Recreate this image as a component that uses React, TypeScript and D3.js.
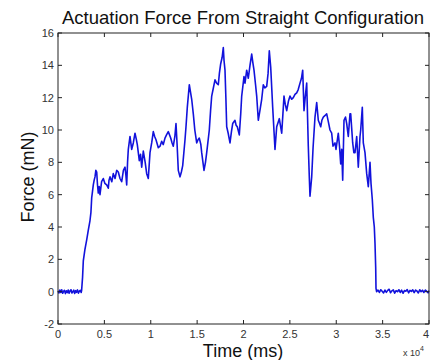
import React, { useEffect, useRef } from "react";
import * as d3 from "d3";

const TITLE = "Actuation Force From Straight Configuration";
const X_LABEL = "Time (ms)";
const Y_LABEL = "Force (mN)";
const X_TICKS = [0, 5000, 10000, 15000, 20000, 25000, 30000, 35000, 40000];
const X_TICK_LABELS = ["0", "0.5", "1", "1.5", "2", "2.5", "3", "3.5", "4"];
const Y_TICKS = [-2, 0, 2, 4, 6, 8, 10, 12, 14, 16];

// time (ms)
const TIME = [
  0, 100, 200, 300, 400, 500, 600, 700, 800, 900, 1000, 1100, 1200, 1300, 1400, 1500, 1600, 1700, 1800, 1900, 2000, 2100, 2200, 2300, 2400, 2500,
  2550, 2650, 2728, 2900, 3094, 3267, 3450, 3550, 3633, 3720, 3806, 3900, 3989, 4080, 4173, 4260, 4345, 4440, 4528, 4700, 4884, 5050, 5251, 5423,
  5500, 5606, 5800, 5962, 6150, 6329, 6501, 6685, 6868, 7050, 7224, 7320, 7407, 7500, 7580, 7763, 7946, 8119, 8302, 8450, 8550, 8766, 8900, 9024,
  9197, 9400, 9563, 9736, 9919, 10100, 10275, 10420, 10566, 10814, 11000, 11181, 11350, 11536, 11700, 11892, 12151, 12300, 12431, 12600, 12722,
  12850, 12970, 13154, 13300, 13445, 13693, 13800, 13941, 14157, 14300, 14415, 14588, 14750, 14954, 15100, 15235, 15400, 15493, 15741, 15900,
  16032, 16313, 16450, 16572, 16750, 16927, 17100, 17283, 17400, 17542, 17700, 17822, 17900, 18005, 18100, 18189, 18350, 18544, 18700, 18836,
  19084, 19200, 19332, 19548, 19700, 19806, 20054, 20162, 20345, 20518, 20700, 20884, 21000, 21132, 21300, 21423, 21596, 21800, 21962, 22135,
  22300, 22501, 22650, 22782, 22933, 23148, 23300, 23396, 23580, 23860, 24119, 24250, 24367, 24500, 24658, 24850, 25013, 25200, 25369, 25550,
  25736, 25900, 26092, 26250, 26383, 26523, 26650, 26814, 26987, 27100, 27170, 27353, 27500, 27709, 27892, 28065, 28200, 28323, 28450, 28604,
  28800, 28970, 29150, 29326, 29509, 29650, 29865, 29973, 30221, 30350, 30480, 30588, 30695, 30836, 31000, 31127, 31299, 31482, 31558, 31773,
  31900, 32022, 32205, 32377, 32561, 32636, 32809, 32917, 33100, 33283, 33456, 33639, 33747, 33887, 33995, 34103, 34178, 34253, 34286, 34350,
  34500, 34650, 34800, 34950, 35100, 35250, 35400, 35550, 35700, 35850, 36000, 36150, 36300, 36450, 36600, 36750, 36900, 37050, 37200, 37350,
  37500, 37650, 37800, 37950, 38100, 38250, 38400, 38550, 38700, 38850, 39000, 39150, 39300, 39450, 39600, 39750, 39900, 40000,
];

// force (mN)
const FORCE = [
  0.05, -0.08, 0.1, -0.05, 0.12, -0.1, 0.02, 0.08, -0.12, 0.05, -0.06, 0.1, -0.1, 0.04, 0.12, -0.08, 0.0, 0.09, -0.11, 0.06, -0.04, 0.11, -0.09, 0.03, 0.08, -0.05,
  0.1, 0.9, 1.9, 2.6, 3.2, 3.8, 4.4, 4.9, 5.8, 6.2, 6.6, 6.9, 7.1, 7.5, 7.4, 6.6, 6.1, 6.5, 6.0, 6.8, 7.0, 6.7, 6.6, 6.4,
  6.9, 7.1, 6.8, 7.3, 7.0, 7.5, 7.4, 7.0, 6.8, 7.5, 7.7, 7.2, 6.6, 8.0, 8.8, 9.6, 8.8, 9.2, 9.8, 9.4, 9.1, 8.1, 8.5, 7.7,
  8.7, 8.0, 7.3, 7.0, 8.6, 9.2, 9.9, 9.6, 9.4, 8.9, 9.0, 9.3, 9.1, 9.5, 9.7, 9.9, 9.5, 9.2, 9.0, 9.6, 10.4,
  9.0, 7.5, 7.1, 7.4, 7.8, 9.4, 10.2, 11.4, 12.8, 12.3, 11.9, 11.0, 10.0, 9.2, 9.4, 9.5, 9.1, 8.6, 7.5, 8.0,
  8.6, 10.0, 11.2, 12.1, 12.6, 13.1, 12.9, 12.8, 13.5, 14.1, 14.5, 15.1, 14.3, 13.7, 12.0, 10.2, 9.8, 9.2, 9.9, 10.4,
  10.6, 10.3, 10.2, 9.7, 11.0, 12.1, 13.3, 12.9, 13.7, 13.2, 14.0, 14.7, 14.2, 13.7, 12.8, 12.1, 10.6, 11.3, 11.9, 12.8,
  12.6, 12.7, 13.5, 14.9, 13.9, 11.4, 9.8, 8.8, 10.2, 10.7, 9.8, 11.0, 12.1, 11.6, 11.2, 11.8, 12.1, 11.9, 12.0, 12.2,
  12.3, 12.5, 12.9, 13.2, 13.7, 11.2, 12.0, 12.9, 9.0, 7.0, 5.9, 7.1, 8.9, 10.8, 11.7, 10.6, 10.4, 10.2, 10.6, 10.8,
  10.9, 11.0, 10.5, 10.0, 9.8, 9.0, 9.2, 8.8, 9.8, 9.0, 7.9, 8.8, 6.9, 10.6, 10.8, 10.4, 9.6, 11.0, 11.0, 9.2,
  8.6, 8.6, 9.6, 7.7, 9.6, 10.0, 11.4, 9.2, 8.6, 7.3, 6.5, 8.0, 6.7, 5.7, 4.6, 4.0, 3.0, 1.5, 0.2, 0.0,
  0.1, -0.05, 0.12, 0.02, -0.08, 0.1, -0.04, 0.08, 0.15, -0.06, 0.05, 0.11, -0.09, 0.06, 0.0, 0.12, -0.05, 0.09, -0.1, 0.07,
  0.03, 0.13, -0.07, 0.08, 0.02, 0.11, -0.06, 0.1, 0.04, -0.08, 0.12, 0.0, 0.09, -0.05, 0.1, 0.03, -0.07, 0.06,
];

const W = 431;
const H = 360;
const M = { left: 58, right: 2, top: 33, bottom: 36 };

export default function App() {
  const ref = useRef<SVGSVGElement>(null);

  useEffect(() => {
    const svg = d3.select(ref.current);
    svg.selectAll("*").remove();

    const x = d3.scaleLinear().domain([0, 40000]).range([M.left, W - M.right]);
    const y = d3.scaleLinear().domain([-2, 16]).range([H - M.bottom, M.top]);
    const font = "Liberation Sans, Arial, sans-serif";
    const axisColor = "#222";

    svg.append("rect").attr("width", W).attr("height", H).attr("fill", "#fff");

    const data = TIME.map((t, i) => [t, FORCE[i]] as [number, number]);
    const line = d3.line<[number, number]>().x((d) => x(d[0])).y((d) => y(d[1]));

    svg
      .append("path")
      .attr("d", line(data) as string)
      .attr("fill", "none")
      .attr("stroke", "#1212dc")
      .attr("stroke-width", 1.6)
      .attr("stroke-linejoin", "round");

    const x0 = x(0), x1 = x(40000), y0 = y(-2), y1 = y(16);
    const tickLen = 4;

    svg
      .append("rect")
      .attr("x", x0)
      .attr("y", y1)
      .attr("width", x1 - x0)
      .attr("height", y0 - y1)
      .attr("fill", "none")
      .attr("stroke", axisColor)
      .attr("stroke-width", 1);

    const tg = svg.append("g").attr("stroke", axisColor).attr("stroke-width", 1);
    X_TICKS.forEach((t) => {
      tg.append("line").attr("x1", x(t)).attr("x2", x(t)).attr("y1", y0).attr("y2", y0 - tickLen);
      tg.append("line").attr("x1", x(t)).attr("x2", x(t)).attr("y1", y1).attr("y2", y1 + tickLen);
    });
    Y_TICKS.forEach((v) => {
      tg.append("line").attr("x1", x0).attr("x2", x0 + tickLen).attr("y1", y(v)).attr("y2", y(v));
      tg.append("line").attr("x1", x1).attr("x2", x1 - tickLen).attr("y1", y(v)).attr("y2", y(v));
    });

    X_TICKS.forEach((t, i) => {
      svg
        .append("text")
        .attr("x", x(t))
        .attr("y", y0 + 14)
        .attr("text-anchor", i === X_TICKS.length - 1 ? "end" : "middle")
        .attr("font-family", font)
        .attr("font-size", 11)
        .attr("fill", "#333")
        .text(X_TICK_LABELS[i]);
    });
    Y_TICKS.forEach((v) => {
      svg
        .append("text")
        .attr("x", x0 - 4)
        .attr("y", y(v) + 4)
        .attr("text-anchor", "end")
        .attr("font-family", font)
        .attr("font-size", 11)
        .attr("fill", "#333")
        .text(String(v));
    });

    svg
      .append("text")
      .attr("x", 243)
      .attr("y", 24)
      .attr("text-anchor", "middle")
      .attr("font-family", font)
      .attr("font-size", 18.5)
      .attr("fill", "#111")
      .text(TITLE);

    svg
      .append("text")
      .attr("x", 243)
      .attr("y", 357)
      .attr("text-anchor", "middle")
      .attr("font-family", font)
      .attr("font-size", 18)
      .attr("fill", "#111")
      .text(X_LABEL);

    svg
      .append("text")
      .attr("transform", `translate(34,177) rotate(-90)`)
      .attr("text-anchor", "middle")
      .attr("font-family", font)
      .attr("font-size", 18)
      .attr("fill", "#111")
      .text(Y_LABEL);

    const mult = svg
      .append("text")
      .attr("x", 403)
      .attr("y", 356)
      .attr("font-family", font)
      .attr("font-size", 9)
      .attr("fill", "#333");
    mult.append("tspan").text("x 10");
    mult.append("tspan").attr("dy", -5).attr("font-size", 7).text("4");
  }, []);

  return (
    <svg
      ref={ref}
      width={W}
      height={H}
      style={{ position: "absolute", left: 0, top: 0, display: "block" }}
    />
  );
}
